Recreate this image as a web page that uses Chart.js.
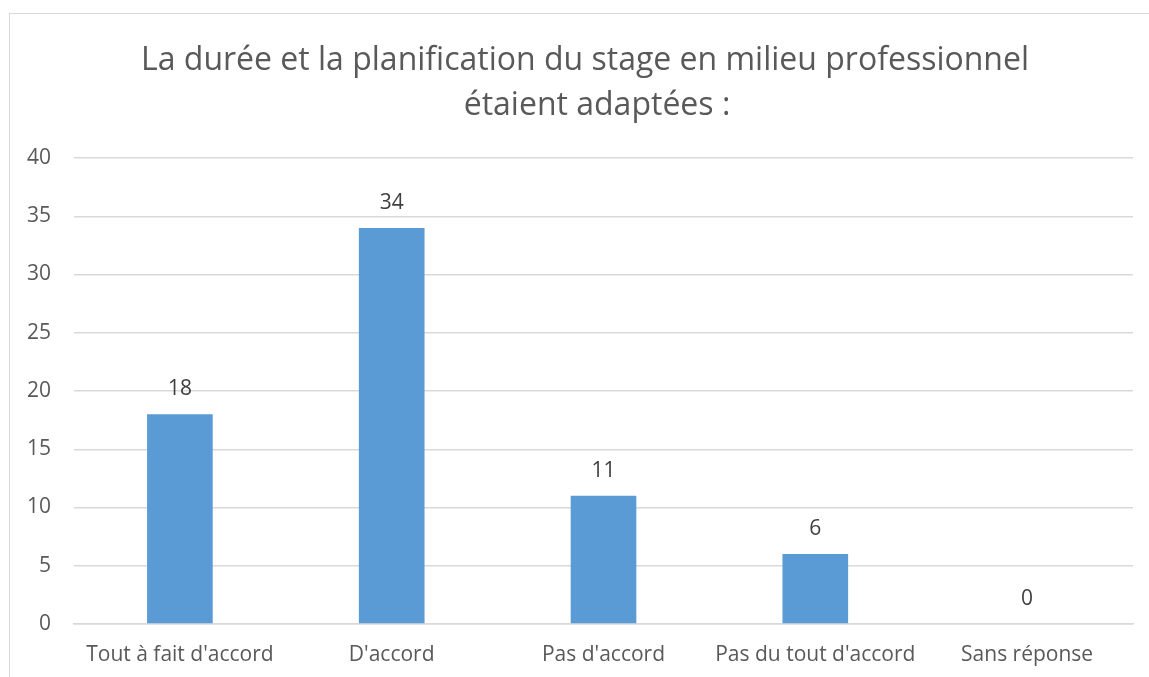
<!DOCTYPE html>
<html lang="fr">
<head>
  <meta charset="UTF-8" />
  <title>Durée et planification du stage</title>
  <script src="https://cdn.jsdelivr.net/npm/chart.js"></script>
  <style>
    body {
      margin: 0;
      background: #ffffff;
      overflow: hidden;
      font-family: 'Open Sans', sans-serif;
    }
    .frame {
      position: absolute;
      left: 9px;
      top: 13px;
      width: 1300px;
      height: 800px;
      border: 1.5px solid #d9d9d9;
    }
    .wrap {
      position: absolute;
      left: 0;
      top: 0;
      width: 1149px;
      height: 677px;
    }
  </style>
</head>
<body>
  <div class="frame"></div>
  <div class="wrap"><canvas id="stageChart"></canvas></div>

  <script>
    const titleLines = ['La durée et la planification du stage en milieu professionnel', 'étaient adaptées :'];
    const categories = ["Tout à fait d'accord", "D'accord", "Pas d'accord", "Pas du tout d'accord", 'Sans réponse'];
    const responses = [18, 34, 11, 6, 0];
    const yTicks = [0, 5, 10, 15, 20, 25, 30, 35, 40];

    const textColor = '#595959';
    const gridColor = '#d9d9d9';

    // title drawn by hand so it can sit centred on the outer frame
    const chartTitle = {
      id: 'chartTitle',
      afterDraw(chart) {
        const c = chart.ctx;
        const xs = [585, 597];
        c.save();
        c.font = '32px "Open Sans"';
        c.fillStyle = textColor;
        c.textAlign = 'center';
        c.textBaseline = 'alphabetic';
        titleLines.forEach((line, i) => c.fillText(line, xs[i], 70 + i * 45));
        c.restore();
      }
    };

    // labels above each bar
    const valueLabels = {
      id: 'valueLabels',
      afterDatasetsDraw(chart) {
        const c = chart.ctx;
        const meta = chart.getDatasetMeta(0);
        c.save();
        c.font = '21px "Open Sans"';
        c.fillStyle = '#404040';
        c.textAlign = 'center';
        c.textBaseline = 'middle';
        meta.data.forEach((bar, i) => {
          c.fillText(String(responses[i]), bar.x, bar.y - 25);
        });
        c.restore();
      }
    };

    const ctx = document.getElementById('stageChart').getContext('2d');
    new Chart(ctx, {
      type: 'bar',
      data: {
        labels: categories,
        datasets: [{
          data: responses,
          backgroundColor: '#5b9bd5',
          borderWidth: 0,
          categoryPercentage: 1,
          barPercentage: 0.31
        }]
      },
      options: {
        responsive: true,
        maintainAspectRatio: false,
        animation: false,
        layout: { padding: { left: 0, right: 16, top: 158, bottom: 0 } },
        plugins: {
          legend: { display: false },
          tooltip: { enabled: false },
          title: { display: false }
        },
        scales: {
          y: {
            min: 0,
            max: 40,
            afterBuildTicks: s => { s.ticks = yTicks.map(v => ({ value: v })); },
            afterFit: s => { s.width = 74; },
            ticks: { color: textColor, font: { family: 'Open Sans', size: 21 }, padding: 23 },
            grid: { color: gridColor, lineWidth: 1.5, drawTicks: false },
            border: { display: false }
          },
          x: {
            afterFit: s => { s.height = 53; },
            ticks: { color: textColor, font: { family: 'Open Sans', size: 21 }, padding: 18, maxRotation: 0, autoSkip: false },
            grid: { display: false, drawTicks: false },
            border: { color: gridColor, width: 1.5 }
          }
        }
      },
      plugins: [valueLabels, chartTitle]
    });
  </script>
</body>
</html>
